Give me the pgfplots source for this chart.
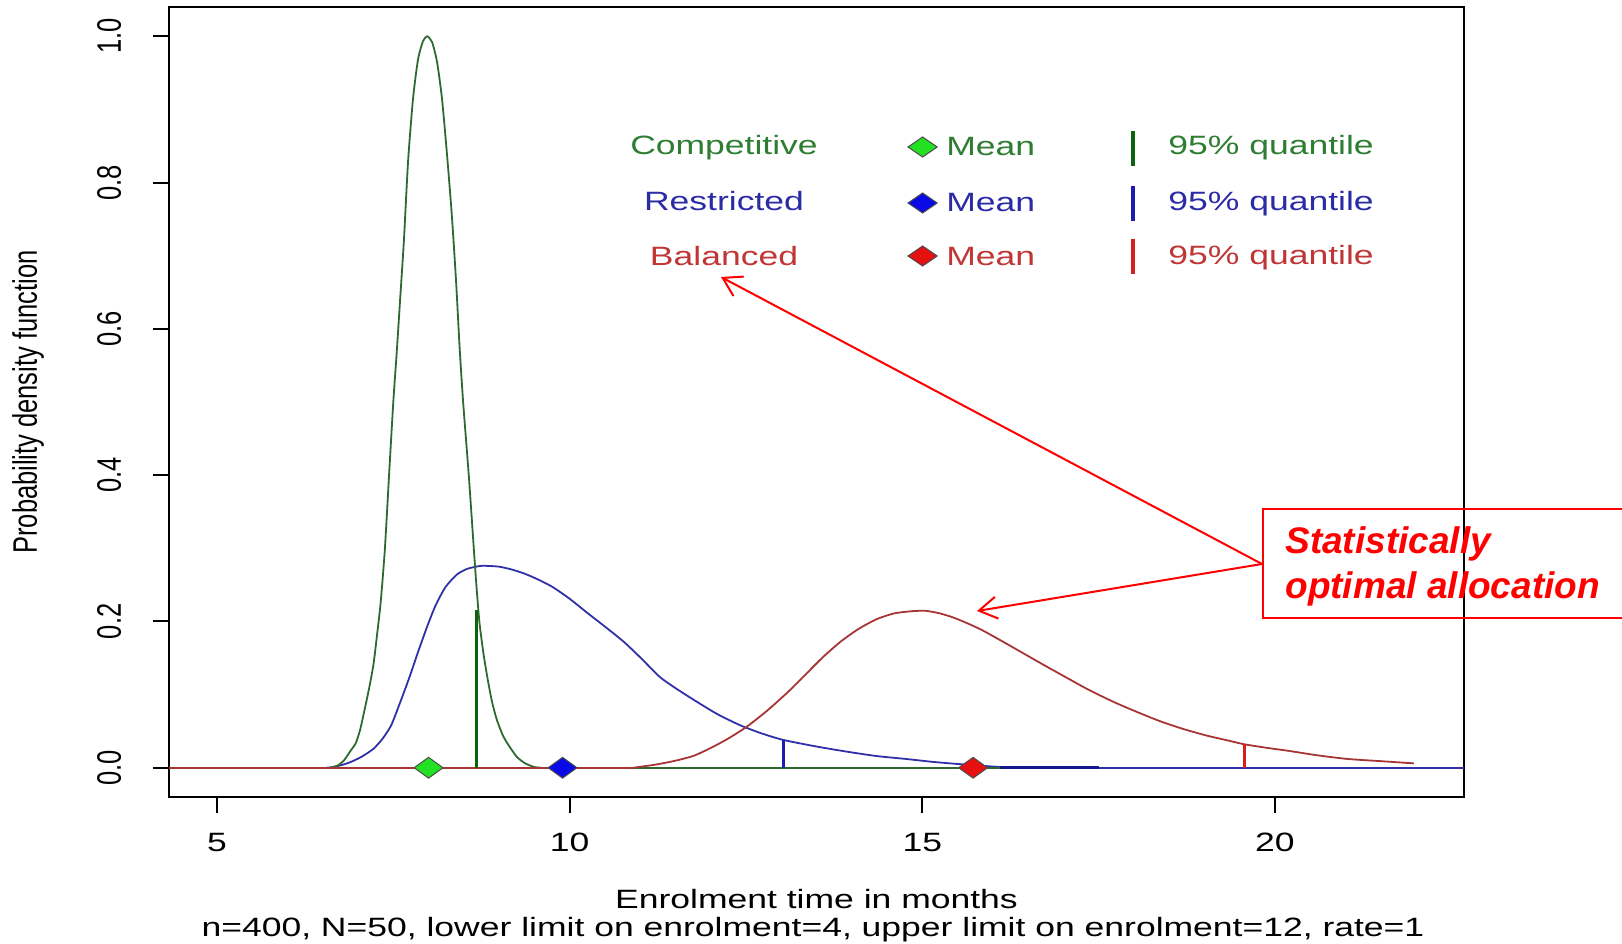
\documentclass[border=0pt]{standalone}
\usepackage{fontspec}
\setmainfont{Liberation Sans}
\newfontfamily\rwide[FakeStretch=1.34]{Liberation Sans}
\newfontfamily\rnarrow[FakeStretch=0.75]{Liberation Sans}
\usepackage{pgfplots}
\pgfplotsset{compat=1.18}
\usetikzlibrary{arrows.meta}

\definecolor{compCurve}{HTML}{2E6A30}
\definecolor{restCurve}{HTML}{3030A8}
\definecolor{balCurve}{HTML}{A83535}
\definecolor{compText}{HTML}{2E7D32}
\definecolor{restText}{HTML}{2B2BA5}
\definecolor{balText}{HTML}{C03535}
\definecolor{compBar}{HTML}{0B640B}
\definecolor{restBar}{HTML}{1C1CB0}
\definecolor{balBar}{HTML}{D42020}
\definecolor{compMean}{HTML}{22E022}
\definecolor{restMean}{HTML}{0A0AE6}
\definecolor{balMean}{HTML}{E61010}

\newcommand{\axfont}{\rwide\fontsize{13.25}{14}\selectfont}
\newcommand{\vfont}{\rnarrow\fontsize{17}{18}\selectfont}

\pgfplotsset{
  FlatStyle/.style={line width=0.9pt, no marks},
  CurveStyle/.style={FlatStyle, smooth, tension=0.4},
  QuantStyle/.style={line width=1.8pt, no marks},
  MeanStyle/.style={only marks, mark=diamond*, mark size=5.2pt,
    mark options={xscale=1.85, draw=black!70, line width=0.5pt, fill=#1}},
}

\begin{document}
\begin{tikzpicture}
\useasboundingbox (-84.5pt,-73pt) rectangle (726.5pt,398.5pt);
\begin{axis}[
    at={(0pt,0pt)}, anchor=south west,
    scale only axis, width=647.5pt, height=395pt,
    xmin=4.32, xmax=22.68, ymin=-0.04, ymax=1.04,
    axis line style={line width=1pt},
    tick style={line width=1pt, black},
    tick align=outside, tick pos=left, major tick length=8pt,
    xtick={5,10,15,20}, xticklabels={5,10,15,20},
    ytick={0,0.2,0.4,0.6,0.8,1.0}, yticklabels={0.0,0.2,0.4,0.6,0.8,1.0},
    xticklabel style={font=\axfont, anchor=base, yshift=-19pt},
    yticklabel style={font=\vfont, xshift=-16pt, rotate=90, anchor=base},
    xlabel={Enrolment time in months},
    every axis x label/.style={at={(rel axis cs:0.5,0)}, yshift=-55.5pt, anchor=base, font=\axfont},
    ylabel={Probability density function},
    every axis y label/.style={at={(rel axis cs:0,0.5)}, xshift=-66pt, rotate=90, anchor=base, font=\vfont},
]
% Restricted
\addplot[FlatStyle, restCurve] coordinates {(5.89,0) (6.55,0)};
\addplot[CurveStyle, restCurve] coordinates {
(6.55,0) (6.65,0.001) (6.78,0.004) (6.90,0.008) (7.05,0.015) (7.22,0.026)
(7.35,0.040) (7.47,0.058) (7.60,0.090) (7.73,0.124) (7.85,0.158) (7.98,0.193)
(8.10,0.222) (8.24,0.247) (8.40,0.264) (8.55,0.272) (8.75,0.276) (8.99,0.275)
(9.18,0.271) (9.37,0.265) (9.56,0.257) (9.76,0.247) (10.00,0.231) (10.26,0.211)
(10.50,0.193) (10.77,0.172) (11.02,0.149) (11.28,0.124) (11.53,0.107) (11.79,0.091)
(12.10,0.073) (12.42,0.058) (12.72,0.047) (13.03,0.038) (13.50,0.029) (13.93,0.022)
(14.35,0.016) (14.77,0.012) (15.15,0.008) (15.52,0.005) (15.80,0.003) (16.10,0.001)
(16.30,0)};
\addplot[FlatStyle, restCurve] coordinates {(16.30,0) (22.68,0)};
% Competitive
\addplot[CurveStyle, compCurve] coordinates {
(6.60,0) (6.71,0.003) (6.80,0.010) (6.90,0.024) (6.97,0.034) (7.03,0.052)
(7.09,0.078) (7.16,0.110) (7.22,0.142) (7.27,0.182) (7.32,0.225) (7.38,0.298)
(7.44,0.400) (7.50,0.500) (7.55,0.570) (7.60,0.645) (7.65,0.720) (7.71,0.830)
(7.78,0.915) (7.85,0.968) (7.92,0.993) (7.98,1.000) (8.05,0.992) (8.12,0.965)
(8.19,0.915) (8.26,0.840) (8.33,0.755) (8.39,0.665) (8.44,0.575) (8.49,0.500)
(8.57,0.400) (8.62,0.330) (8.67,0.260) (8.72,0.200) (8.78,0.155) (8.84,0.120)
(8.90,0.090) (8.97,0.065) (9.05,0.045) (9.12,0.033) (9.25,0.015) (9.37,0.006)
(9.50,0.001) (9.60,0)};
\addplot[FlatStyle, compCurve] coordinates {(9.60,0) (17.50,0)};
\addplot[line width=1.5pt, no marks, color=restBar!80!black] coordinates {(16.10,0) (17.50,0)};
% Balanced
\addplot[FlatStyle, balCurve] coordinates {(4.32,0) (10.90,0)};
\addplot[CurveStyle, balCurve] coordinates {
(10.90,0) (11.20,0.004) (11.47,0.009) (11.75,0.016) (12.00,0.027)
(12.25,0.040) (12.51,0.056) (12.80,0.078) (13.10,0.104) (13.35,0.128) (13.60,0.152)
(13.85,0.173) (14.10,0.190) (14.35,0.203) (14.60,0.211) (14.85,0.214) (15.05,0.2145)
(15.25,0.211) (15.45,0.205) (15.65,0.197) (15.85,0.188) (16.15,0.172) (16.44,0.156)
(16.75,0.139) (17.03,0.124) (17.35,0.107) (17.69,0.091) (18.00,0.078) (18.36,0.064)
(18.70,0.053) (19.03,0.044) (19.30,0.038) (19.57,0.032) (19.90,0.027) (20.20,0.023)
(20.60,0.017) (21.03,0.012) (21.50,0.009) (21.97,0.006)};
% 95% quantiles
\addplot[QuantStyle, compBar] coordinates {(8.68,0) (8.68,0.215)};
\addplot[QuantStyle, restBar] coordinates {(13.03,0) (13.03,0.038)};
\addplot[QuantStyle, balBar] coordinates {(19.57,0) (19.57,0.032)};
% means
\addplot[MeanStyle=compMean] coordinates {(8.00,0)};
\addplot[MeanStyle=restMean] coordinates {(9.90,0)};
\addplot[MeanStyle=balMean] coordinates {(15.72,0)};
\end{axis}

% legend and annotation, in pixel units of the reference
\begin{scope}[x=0.5pt, y=-0.5pt, shift={(-84.5pt,398.5pt)}, every node/.style={inner sep=0pt}]
\node[anchor=base, text=compText, font=\axfont] at (724,155) {Competitive};
\node[anchor=base, text=restText, font=\axfont] at (724,211) {Restricted};
\node[anchor=base, text=balText, font=\axfont] at (724,265.5) {Balanced};
\foreach \yy/\cc in {147/compMean, 203/restMean, 256/balMean}
  \draw[fill=\cc, draw=black!70, line width=0.5pt] (908,\yy) -- (922.6,\yy-10) -- (937.2,\yy) -- (922.6,\yy+10) -- cycle;
\node[anchor=base west, text=compText, font=\axfont] at (946,156) {Mean};
\node[anchor=base west, text=restText, font=\axfont] at (946,211.5) {Mean};
\node[anchor=base west, text=balText, font=\axfont] at (946,266) {Mean};
\draw[compBar, line width=2pt] (1133,131) -- (1133,166);
\draw[restBar, line width=2pt] (1133,186) -- (1133,221);
\draw[balBar, line width=2pt] (1133,239) -- (1133,274);
\node[anchor=base west, text=compText, font=\axfont] at (1168,155) {95\% quantile};
\node[anchor=base west, text=restText, font=\axfont] at (1168,210.7) {95\% quantile};
\node[anchor=base west, text=balText, font=\axfont] at (1168,265) {95\% quantile};
\node[anchor=base, font=\axfont] at (813,936) {n=400, N=50, lower limit on enrolment=4, upper limit on enrolment=12, rate=1};
\draw[red, line width=1pt] (1263,509) rectangle (1700,618);
\draw[red, line width=1pt, -{Straight Barb[length=9pt,width=11pt]}] (1262,564) -- (721,277);
\draw[red, line width=1pt, -{Straight Barb[length=9pt,width=11pt]}] (1262,564) -- (977,611);
\node[anchor=base west, text=red, font=\bfseries\itshape\fontsize{18.5}{22}\selectfont] at (1285,554) {Statistically};
\node[anchor=base west, text=red, font=\bfseries\itshape\fontsize{18.5}{22}\selectfont] at (1285,598) {optimal allocation};
\end{scope}
\end{tikzpicture}
\end{document}
